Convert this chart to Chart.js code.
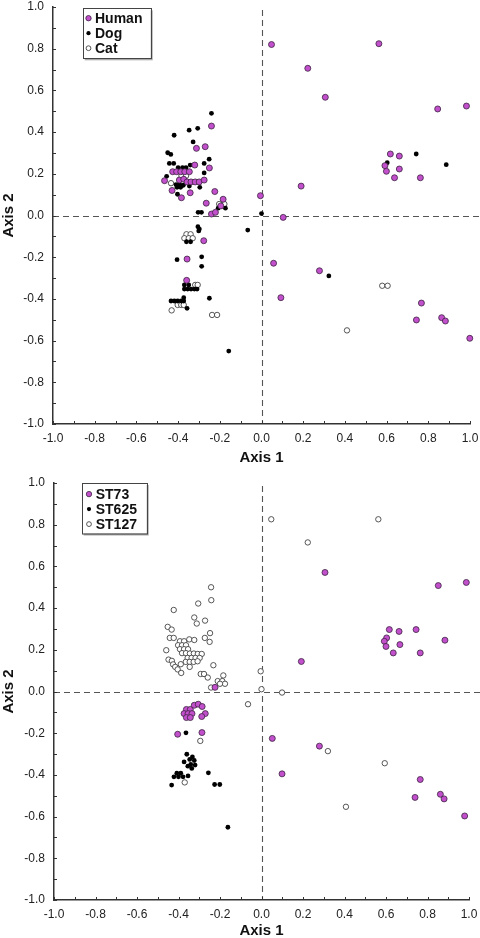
<!DOCTYPE html>
<html>
<head>
<meta charset="utf-8">
<script src="https://cdn.jsdelivr.net/npm/chart.js@4.4.1/dist/chart.umd.min.js"></script>
<style>
  html, body { margin: 0; padding: 0; background: #fff; }
  .panel { width: 480px; height: 469px; }
  canvas { display: block; }
</style>
</head>
<body>
<div class="panel"><canvas id="hostChart" width="480" height="469"></canvas></div>
<div class="panel"><canvas id="stChart" width="480" height="469"></canvas></div>
<script>
// ---- data: [axis1, axis2] per isolate ----
const axisTicks = [-1.0, -0.8, -0.6, -0.4, -0.2, 0.0, 0.2, 0.4, 0.6, 0.8, 1.0];

// top panel: host
const human = [
  [0.048, 0.82], [0.563, 0.824], [0.222, 0.706], [0.306, 0.567], [0.845, 0.511], [0.983, 0.525],
  [0.618, 0.295], [0.661, 0.285], [0.592, 0.239], [0.599, 0.212], [0.661, 0.223], [0.638, 0.181],
  [0.762, 0.181], [0.19, 0.141], [-0.005, 0.095], [0.104, -0.009],
  [0.058, -0.229], [0.278, -0.265], [0.093, -0.394], [0.767, -0.42], [0.743, -0.501], [0.864, -0.49],
  [0.882, -0.506], [0.999, -0.589],
  [-0.24, 0.429], [-0.312, 0.322], [-0.27, 0.33], [-0.32, 0.242], [-0.25, 0.228],
  [-0.426, 0.21], [-0.407, 0.21], [-0.387, 0.21], [-0.368, 0.21], [-0.346, 0.21],
  [-0.465, 0.167], [-0.394, 0.17], [-0.373, 0.174],
  [-0.357, 0.161], [-0.338, 0.161], [-0.318, 0.161], [-0.299, 0.161],
  [-0.275, 0.17], [-0.429, 0.12], [-0.342, 0.109], [-0.384, 0.085], [-0.224, 0.115], [-0.265, 0.059],
  [-0.184, 0.078], [-0.195, 0.046], [-0.24, 0.007], [-0.221, 0.015],
  [-0.277, -0.121], [-0.357, -0.209], [-0.359, -0.311]
];
const dog = [
  [0.603, 0.253], [0.742, 0.295], [0.886, 0.244], [0.0, 0.009], [-0.066, -0.07], [0.323, -0.29],
  [-0.24, 0.49], [-0.419, 0.385], [-0.347, 0.409], [-0.306, 0.418], [-0.328, 0.353], [-0.45, 0.301],
  [-0.435, 0.293], [-0.251, 0.27], [-0.442, 0.25], [-0.421, 0.25], [-0.342, 0.242], [-0.275, 0.25],
  [-0.4, 0.229], [-0.379, 0.229], [-0.362, 0.229], [-0.455, 0.188],
  [-0.41, 0.148], [-0.392, 0.148], [-0.375, 0.145], [-0.405, 0.135], [-0.388, 0.135], [-0.346, 0.141],
  [-0.296, 0.135], [-0.403, 0.102], [-0.275, 0.204],
  [-0.304, 0.015], [-0.288, 0.015], [-0.208, 0.035], [-0.173, 0.035],
  [-0.305, -0.054], [-0.298, -0.065], [-0.301, -0.074], [-0.36, -0.126], [-0.34, -0.126],
  [-0.405, -0.212], [-0.287, -0.198], [-0.287, -0.244],
  [-0.37, -0.333], [-0.349, -0.333], [-0.37, -0.353], [-0.354, -0.353], [-0.338, -0.353],
  [-0.322, -0.353], [-0.309, -0.353], [-0.373, -0.394],
  [-0.434, -0.41], [-0.418, -0.41], [-0.402, -0.41], [-0.385, -0.41], [-0.373, -0.41],
  [-0.357, -0.445], [-0.25, -0.397], [-0.157, -0.65]
];
const cat = [
  [-0.384, 0.19], [-0.362, 0.19], [-0.434, 0.155], [-0.203, 0.055], [-0.178, 0.055],
  [-0.36, -0.09], [-0.34, -0.09], [-0.37, -0.109], [-0.349, -0.109], [-0.33, -0.109],
  [-0.318, -0.333], [-0.306, -0.333], [-0.402, -0.429], [-0.385, -0.429], [-0.373, -0.429],
  [-0.431, -0.455], [-0.237, -0.477], [-0.213, -0.477],
  [0.579, -0.337], [0.605, -0.337], [0.41, -0.551]
];
const humanDogOverlap = [[1.024, 0.279]];

// bottom panel: sequence type
const st73 = [
  [0.306, 0.571], [0.852, 0.508], [0.987, 0.523], [1.029, 0.283], [0.616, 0.297], [0.663, 0.288],
  [0.745, 0.297], [0.603, 0.257], [0.592, 0.241], [0.6, 0.216], [0.667, 0.225], [0.635, 0.185],
  [0.765, 0.185], [0.884, 0.246], [0.192, 0.144],
  [0.052, -0.225], [0.279, -0.262], [0.099, -0.395], [0.765, -0.422], [0.74, -0.508], [0.862, -0.493],
  [0.88, -0.515], [0.979, -0.597],
  [-0.224, 0.02],
  [-0.362, -0.086], [-0.343, -0.086], [-0.373, -0.106], [-0.354, -0.106], [-0.335, -0.106],
  [-0.362, -0.125], [-0.343, -0.125],
  [-0.324, -0.066], [-0.305, -0.061], [-0.286, -0.072], [-0.271, -0.106], [-0.288, -0.12],
  [-0.404, -0.205], [-0.287, -0.197]
];
const st625 = [
  [-0.364, -0.198], [-0.36, -0.301], [-0.333, -0.314], [-0.346, -0.326], [-0.324, -0.331],
  [-0.373, -0.338], [-0.341, -0.35], [-0.32, -0.353], [-0.355, -0.358], [-0.336, -0.369],
  [-0.408, -0.392], [-0.389, -0.392], [-0.422, -0.409], [-0.4, -0.409], [-0.378, -0.409],
  [-0.354, -0.405], [-0.256, -0.39], [-0.433, -0.449], [-0.226, -0.446], [-0.201, -0.446],
  [-0.162, -0.651]
];
const st127 = [
  [0.047, 0.826], [0.563, 0.826], [0.223, 0.715], [-0.004, 0.097], [0.0, 0.011], [0.099, -0.005],
  [-0.065, -0.061], [0.32, -0.286], [0.594, -0.344], [0.407, -0.553],
  [-0.243, 0.5], [-0.242, 0.438], [-0.305, 0.422], [-0.423, 0.391], [-0.324, 0.355], [-0.312, 0.326],
  [-0.272, 0.34], [-0.452, 0.31], [-0.433, 0.297], [-0.248, 0.28], [-0.442, 0.257], [-0.423, 0.257],
  [-0.348, 0.25], [-0.324, 0.247], [-0.273, 0.257], [-0.25, 0.238],
  [-0.393, 0.241], [-0.373, 0.241], [-0.402, 0.222], [-0.383, 0.222], [-0.364, 0.222],
  [-0.393, 0.203], [-0.373, 0.203], [-0.354, 0.203], [-0.383, 0.184], [-0.364, 0.184],
  [-0.345, 0.182], [-0.326, 0.182], [-0.307, 0.18], [-0.288, 0.18],
  [-0.356, 0.161], [-0.337, 0.161], [-0.318, 0.161], [-0.298, 0.161],
  [-0.365, 0.142], [-0.346, 0.142], [-0.327, 0.142], [-0.308, 0.145],
  [-0.346, 0.118], [-0.459, 0.198], [-0.448, 0.153], [-0.432, 0.147], [-0.426, 0.13], [-0.416, 0.118],
  [-0.404, 0.106], [-0.387, 0.089], [-0.389, 0.131], [-0.232, 0.126], [-0.293, 0.084], [-0.277, 0.084],
  [-0.259, 0.067], [-0.184, 0.077], [-0.211, 0.05], [-0.189, 0.05], [-0.176, 0.037], [-0.2, 0.037],
  [-0.243, 0.019],
  [-0.295, -0.237], [-0.37, -0.436]
];

const FONT = "'Liberation Sans', Arial, Helvetica, sans-serif";
const PURPLE = '#c24fcb';

const styles = {
  purple: { backgroundColor: PURPLE, borderColor: '#3b2340', borderWidth: 0.8, pointRadius: 3 },
  black: { backgroundColor: '#000', borderColor: '#000', borderWidth: 0, pointRadius: 2.4 },
  open: { backgroundColor: '#fff', borderColor: '#444', borderWidth: 0.9, pointRadius: 2.7 },
  salmon: { backgroundColor: '#d98570', borderColor: '#4a3030', borderWidth: 0.8, pointRadius: 3 }
};

function toXY(arr) {
  return arr.map(p => ({ x: p[0], y: p[1] }));
}

function makeSet(label, arr, style, inLegend) {
  return Object.assign({ label: label, data: toXY(arr), clip: false, pointHoverRadius: style.pointRadius, inLegend: inLegend }, style);
}

// dashed zero lines, inward tick marks, boxed legend
const decor = {
  id: 'decor',
  beforeDatasetsDraw(chart) {
    const { ctx, chartArea: a, scales: { x, y } } = chart;
    const x0 = Math.round(x.getPixelForValue(0)) + 0.5;
    const y0 = Math.round(y.getPixelForValue(0)) + 0.5;
    ctx.save();
    ctx.strokeStyle = '#555';
    ctx.lineWidth = 1.1;
    ctx.setLineDash([6, 4]);
    ctx.beginPath();
    ctx.moveTo(a.left, y0);
    ctx.lineTo(chart.width, y0);
    ctx.moveTo(x0, a.top + 3);
    ctx.lineTo(x0, a.bottom);
    ctx.stroke();
    ctx.restore();
  },
  afterDraw(chart, args, opts) {
    const { ctx, chartArea: a, scales: { x, y } } = chart;
    ctx.save();
    ctx.strokeStyle = '#333';
    ctx.lineWidth = 1;
    ctx.beginPath();
    x.ticks.forEach(t => {
      const px = Math.round(x.getPixelForValue(t.value)) + 0.5;
      ctx.moveTo(px, a.bottom);
      ctx.lineTo(px, a.bottom - 3);
    });
    y.ticks.forEach(t => {
      const py = Math.round(y.getPixelForValue(t.value)) + 0.5;
      ctx.moveTo(a.left, py);
      ctx.lineTo(a.left + 3, py);
    });
    ctx.stroke();

    // legend box
    const bx = a.left + opts.dx, by = a.top + opts.dy;
    ctx.fillStyle = '#aaa';
    ctx.fillRect(bx + 2, by + 2, opts.w, opts.h);
    ctx.fillStyle = '#fff';
    ctx.fillRect(bx, by, opts.w, opts.h);
    ctx.strokeStyle = '#444';
    ctx.lineWidth = 1;
    ctx.strokeRect(Math.round(bx) + 0.5, Math.round(by) + 0.5, opts.w, opts.h);

    ctx.font = 'bold 14px ' + FONT;
    ctx.textBaseline = 'alphabetic';
    ctx.textAlign = 'left';
    const sets = chart.data.datasets.filter(d => d.inLegend);
    sets.forEach((d, i) => {
      const base = by + opts.first + i * 15;
      ctx.beginPath();
      ctx.arc(bx + opts.mx, base - 4.5, d.pointRadius - 0.3, 0, Math.PI * 2);
      ctx.fillStyle = d.backgroundColor;
      ctx.fill();
      if (d.borderWidth) {
        ctx.lineWidth = d.borderWidth;
        ctx.strokeStyle = d.borderColor;
        ctx.stroke();
      }
      ctx.fillStyle = '#111';
      ctx.fillText(d.label, bx + opts.tx, base);
    });
    ctx.restore();
  }
};

function axisOptions(title, isY, titleOffset) {
  return {
    type: 'linear',
    min: -1,
    max: 1,
    grid: { display: false, drawTicks: false },
    border: { display: true, color: '#333', width: 1.5 },
    ticks: {
      stepSize: 0.1,
      autoSkip: false,
      maxTicksLimit: 30,
      maxRotation: 0,
      minRotation: 0,
      padding: isY ? 9 : 7,
      color: '#222',
      font: { family: FONT, size: 12 },
      callback: v => (Math.round(v * 10) % 2 === 0 ? v.toFixed(1) : '')
    },
    title: {
      display: true,
      text: title,
      color: '#111',
      font: { family: FONT, size: 15, weight: 'bold', lineHeight: 1.2 },
      padding: { top: titleOffset, bottom: titleOffset }
    }
  };
}

function drawPanel(id, datasets, layout, legend) {
  const x = axisOptions('Axis 1', false, layout.xTitlePad);
  const y = axisOptions('Axis 2', true, 0);
  // fixed axis boxes so the plot area lands where the figure has it
  x.afterFit = s => { s.height = layout.xHeight; s.paddingLeft = 0; s.paddingRight = 0; };
  y.afterFit = s => { s.width = layout.yWidth; s.paddingTop = 0; s.paddingBottom = 0; };
  new Chart(document.getElementById(id), {
    type: 'scatter',
    data: { datasets: datasets },
    options: {
      responsive: false,
      animation: false,
      devicePixelRatio: 1,
      layout: { padding: { top: layout.top, right: layout.right, left: 0, bottom: 0 } },
      scales: { x: x, y: y },
      plugins: {
        legend: { display: false },
        tooltip: { enabled: false },
        decor: legend
      }
    },
    plugins: [decor]
  });
}

drawPanel('hostChart', [
  makeSet('Human', human, styles.purple, true),
  makeSet('Dog', dog, styles.black, true),
  makeSet('Cat', cat, styles.open, true),
  makeSet('Human/Dog', humanDogOverlap, styles.salmon, false)
], { top: 7, right: 10, xHeight: 45, yWidth: 53, xTitlePad: 2 },
   { dx: 29.7, dy: 1.3, w: 68, h: 50, first: 14.4, mx: 5.8, tx: 12.3 });

drawPanel('stChart', [
  makeSet('ST73', st73, styles.purple, true),
  makeSet('ST625', st625, styles.black, true),
  makeSet('ST127', st127, styles.open, true)
], { top: 14, right: 11, xHeight: 38, yWidth: 54, xTitlePad: -2 },
   { dx: 27.7, dy: 0, w: 65, h: 50.5, first: 15.6, mx: 7.3, tx: 14 });
</script>
</body>
</html>
